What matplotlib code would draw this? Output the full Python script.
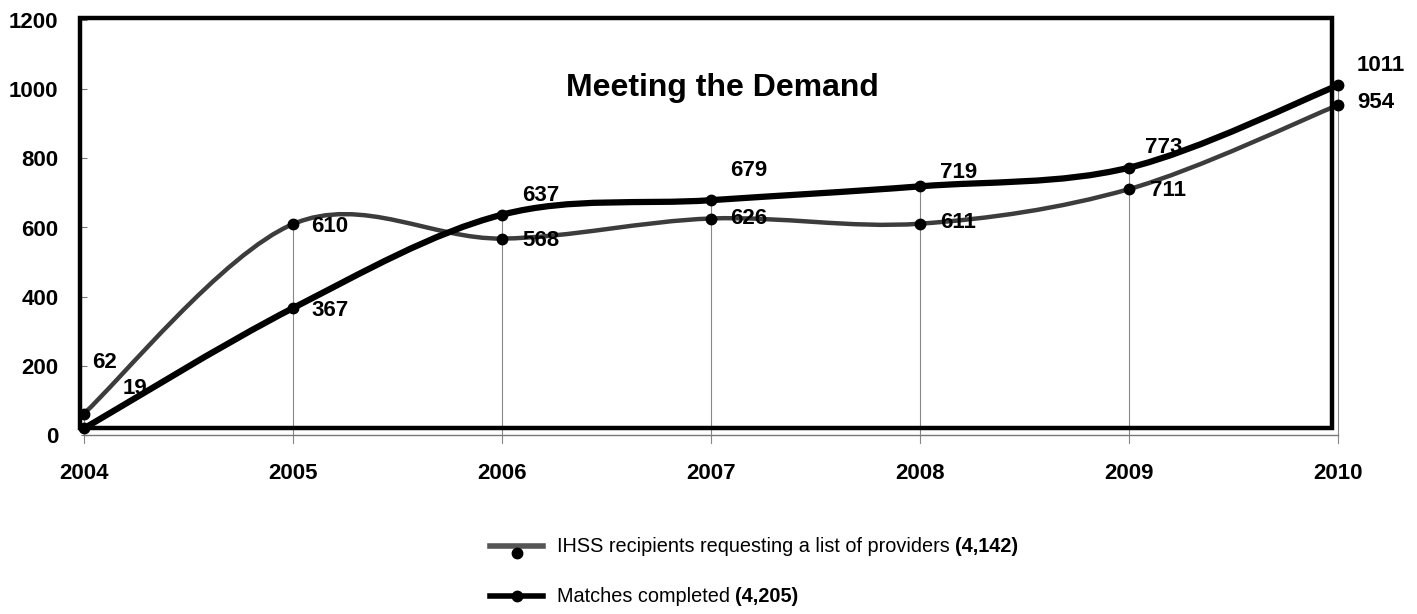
import matplotlib.pyplot as plt
import numpy as np
from matplotlib.path import Path
from matplotlib.patches import PathPatch, Rectangle
from matplotlib.lines import Line2D

plt.rcParams['font.family'] = ['Liberation Sans', 'DejaVu Sans']

years = [2004, 2005, 2006, 2007, 2008, 2009, 2010]
requests = [62, 610, 568, 626, 611, 711, 954]
matches = [19, 367, 637, 679, 719, 773, 1011]
request_total = "(4,142)"
match_total = "(4,205)"
title = "Meeting the Demand"

# label offsets in pixels (dx right, dy down) from each point
req_offsets = [(8, -51), (18, 2), (20, 2), (19, 0), (20, -1), (21, 1), (19, -3)]
match_offsets = [(39, -40), (18, 2), (20, -19), (19, -30), (20, -14), (16, -20), (19, -20)]


def smooth_path(xs, ys):
    # Excel-style smoothed line: cubic bezier with catmull-rom control points
    pts = np.column_stack([xs, ys]).astype(float)
    n = len(pts)
    verts = [pts[0]]
    codes = [Path.MOVETO]
    for i in range(n - 1):
        p0 = pts[max(i - 1, 0)]
        p1 = pts[i]
        p2 = pts[i + 1]
        p3 = pts[min(i + 2, n - 1)]
        c1 = p1 + (p2 - p0) / 6.0
        c2 = p2 - (p3 - p1) / 6.0
        verts += [c1, c2, p2]
        codes += [Path.CURVE4] * 3
    return Path(verts, codes)


fig = plt.figure(figsize=(14.17, 6.14), dpi=100)
ax = fig.add_axes([84 / 1417, 179 / 614, 1254 / 1417, 415 / 614])
ax.set_xlim(2004, 2010)
ax.set_ylim(0, 1200)

# thick outer frame
fig.patches.append(Rectangle((80 / 1417, 186 / 614), 1252 / 1417, 410 / 614,
                             transform=fig.transFigure, fill=False,
                             edgecolor='black', linewidth=3.2, zorder=5))

for s in ['top', 'right', 'left']:
    ax.spines[s].set_visible(False)
ax.spines['bottom'].set_color('#777777')
ax.spines['bottom'].set_linewidth(1.0)

ax.set_yticks(range(0, 1201, 200))
ax.set_xticks(years)
ax.tick_params(axis='y', length=5, color='#777777', direction='inout', pad=16,
               labelsize=16)
ax.tick_params(axis='x', length=0, pad=20, labelsize=16)
for lab in ax.get_xticklabels() + ax.get_yticklabels():
    lab.set_fontweight('bold')

# drop lines at each year
for x, a, b in zip(years, requests, matches):
    ax.plot([x, x], [-24, max(a, b)], color='#888888', lw=0.8, clip_on=False, zorder=1)

ax.add_patch(PathPatch(smooth_path(years, requests), fill=False, edgecolor='#3c3c3c',
                       lw=3.2, capstyle='round', zorder=3, clip_on=False))
ax.add_patch(PathPatch(smooth_path(years, matches), fill=False, edgecolor='black',
                       lw=4.5, capstyle='round', zorder=4, clip_on=False))
ax.plot(years, requests, 'o', color='black', ms=7.5, clip_on=False, zorder=6)
ax.plot(years, matches, 'o', color='black', ms=7.5, clip_on=False, zorder=6)

for x, y, (dx, dy) in zip(years, requests, req_offsets):
    ax.annotate(str(y), (x, y), xytext=(dx * 0.72, -dy * 0.72), textcoords='offset points',
                ha='left', va='center', fontsize=16, fontweight='bold', zorder=7)
for x, y, (dx, dy) in zip(years, matches, match_offsets):
    ax.annotate(str(y), (x, y), xytext=(dx * 0.72, -dy * 0.72), textcoords='offset points',
                ha='left', va='center', fontsize=16, fontweight='bold', zorder=7)

ax.text(722 / 1417, 1 - 88 / 614, title, transform=fig.transFigure, ha='center',
        va='center', fontsize=23, fontweight='bold')

# legend drawn by hand so the totals can be bold
fig.canvas.draw()
renderer = fig.canvas.get_renderer()
entries = [("IHSS recipients requesting a list of providers ", request_total, '#555555', 546),
           ("Matches completed ", match_total, 'black', 596)]
for label, total, col, ypx in entries:
    yf = 1 - ypx / 614
    fig.lines.append(Line2D([490 / 1417, 543 / 1417], [yf, yf], color=col, lw=4.0,
                            transform=fig.transFigure))
    mk_y = yf - (7 / 614 if col != 'black' else 0)
    fig.lines.append(Line2D([517 / 1417], [mk_y], marker='o', color='black', ms=7.5,
                            transform=fig.transFigure))
    t1 = fig.text(557 / 1417, yf, label, ha='left', va='center', fontsize=14.3)
    bb = t1.get_window_extent(renderer)
    fig.text(bb.x1 / fig.bbox.width, yf, total, ha='left', va='center',
             fontsize=14.3, fontweight='bold')

fig.savefig('out.png', dpi=100)
